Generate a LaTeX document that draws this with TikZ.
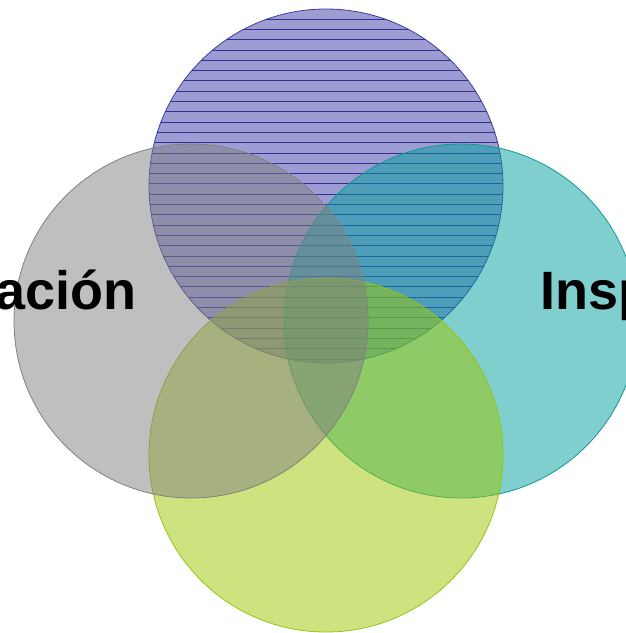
\documentclass[tikz,border=0pt]{standalone}
\usepackage{fontspec}
\setmainfont{Liberation Sans}
\definecolor{topc}{RGB}{60,60,170}
\definecolor{topb}{RGB}{60,60,160}
\definecolor{leftc}{RGB}{128,128,128}
\definecolor{leftb}{RGB}{128,128,128}
\definecolor{rightc}{RGB}{0,160,158}
\definecolor{rightb}{RGB}{20,150,150}
\definecolor{botc}{RGB}{158,200,0}
\definecolor{botb}{RGB}{150,195,20}
\definecolor{stripec}{RGB}{50,50,150}
\begin{document}
\begin{tikzpicture}[x=1pt,y=-1pt,
  ring/.style={circle, inner sep=0pt, outer sep=0pt, minimum size=354pt, fill opacity=0.5, line width=0.8pt},
  stripe/.style={draw=stripec, line width=0.8pt},
  label/.style={font=\fontsize{54}{60}\selectfont\bfseries, text=black, inner sep=0pt}]
\useasboundingbox (0,0) rectangle (626,633);
\clip (0,0) rectangle (626,633);
\node[ring, fill=topc, draw=topb] (top) at (326,186) {};
\begin{scope}
  \clip (326,186) circle[radius=177pt];
  \foreach \yy in {0,...,34} {
    \draw[stripe] (140,19+10.3*\yy) -- (515,19+10.3*\yy);
  }
\end{scope}
\node[ring, fill=rightc, draw=rightb] (right) at (461,321) {};
\node[ring, fill=botc, draw=botb] (bottom) at (326,455) {};
\node[ring, fill=leftc, draw=leftb] (left) at (191,321) {};
\node[label, anchor=base east] (lefttext) at (137,309.5) {ación};
\node[label, anchor=base west] (righttext) at (540.5,309.5) {Insp};
\end{tikzpicture}
\end{document}
